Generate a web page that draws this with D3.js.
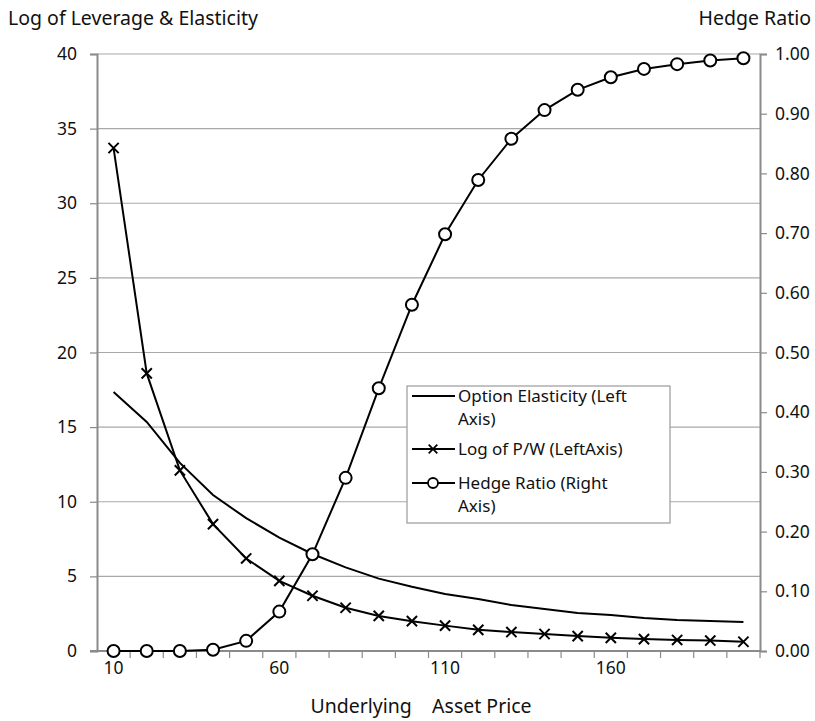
<!DOCTYPE html>
<html>
<head>
<meta charset="utf-8">
<script src="https://cdn.jsdelivr.net/npm/d3@7"></script>
<style>
  body { margin: 0; background: #fff; }
  text { font-family: "Noto Sans", sans-serif; fill: #111; }
</style>
</head>
<body>
<div id="chart"></div>
<script>
const prices = [10, 20, 30, 40, 50, 60, 70, 80, 90, 100, 110, 120, 130, 140, 150, 160, 170, 180, 190, 200];
const elasticity = [17.35, 15.35, 12.6, 10.45, 8.9, 7.6, 6.5, 5.6, 4.85, 4.3, 3.82, 3.48, 3.08, 2.81, 2.55, 2.41, 2.21, 2.08, 2.01, 1.94];
const logPW = [33.7, 18.6, 12.1, 8.5, 6.2, 4.7, 3.7, 2.9, 2.35, 2.0, 1.7, 1.42, 1.27, 1.14, 1.0, 0.88, 0.8, 0.74, 0.7, 0.62];
const hedge = [0.0, 0.0, 0.0, 0.002, 0.017, 0.066, 0.162, 0.29, 0.44, 0.58, 0.698, 0.789, 0.858, 0.906, 0.94, 0.961, 0.975, 0.983, 0.989, 0.993];
const xLabels = [10, 60, 110, 160];
const leftTicks = [0, 5, 10, 15, 20, 25, 30, 35, 40];
const rightTicks = [0, 0.1, 0.2, 0.3, 0.4, 0.5, 0.6, 0.7, 0.8, 0.9, 1.0];

const width = 815, height = 721;
const margin = {top: 54, right: 55, bottom: 70, left: 97};

const svg = d3.select("#chart").append("svg")
  .attr("width", width)
  .attr("height", height);

const xScale = d3.scaleBand()
  .domain(prices)
  .range([margin.left, width - margin.right])
  .padding(0);

const yLeft = d3.scaleLinear().domain([0, 40]).range([height - margin.bottom, margin.top]);
const yRight = d3.scaleLinear().domain([0, 1]).range([height - margin.bottom, margin.top]);

const cx = d => xScale(d) + xScale.bandwidth() / 2;
const axisColor = "#8a8a8a";

// gridlines
svg.append("g").selectAll("line")
  .data(leftTicks.filter(d => d > 0))
  .enter().append("line")
    .attr("x1", margin.left).attr("x2", width - margin.right)
    .attr("y1", d => yLeft(d)).attr("y2", d => yLeft(d))
    .attr("stroke", "#a8a8a8").attr("stroke-width", 1.2);

// left axis
const yAxisL = svg.append("g")
  .attr("transform", `translate(${margin.left},0)`)
  .call(d3.axisLeft(yLeft).tickValues(leftTicks).tickSize(7).tickPadding(13));
// right axis
const yAxisR = svg.append("g")
  .attr("transform", `translate(${width - margin.right},0)`)
  .call(d3.axisRight(yRight).tickValues(rightTicks).tickSize(7).tickPadding(8).tickFormat(d3.format(".2f")));

[yAxisL, yAxisR].forEach(function(a) {
  a.select(".domain").attr("stroke", axisColor).attr("stroke-width", 2);
  a.selectAll(".tick line").attr("stroke", axisColor).attr("stroke-width", 1.2);
  a.selectAll(".tick text").style("font-size", "17.5px").attr("fill", "#111");
});

// bottom axis
const y0 = yLeft(0);
const xAxis = svg.append("g");
xAxis.append("line")
  .attr("x1", margin.left - 7).attr("x2", width - margin.right)
  .attr("y1", y0).attr("y2", y0)
  .attr("stroke", axisColor).attr("stroke-width", 2);
xAxis.selectAll(".xt")
  .data(prices.slice(1).concat(["end"]))
  .enter().append("line")
    .attr("class", "xt")
    .attr("x1", d => d === "end" ? width - margin.right : xScale(d))
    .attr("x2", d => d === "end" ? width - margin.right : xScale(d))
    .attr("y1", y0).attr("y2", y0 + 7)
    .attr("stroke", axisColor).attr("stroke-width", 1.2);
xAxis.selectAll(".xl")
  .data(xLabels)
  .enter().append("text")
    .attr("class", "xl")
    .attr("x", d => cx(d))
    .attr("y", y0 + 23)
    .attr("text-anchor", "middle")
    .style("font-size", "17.5px")
    .text(d => d);

// titles
svg.append("text").attr("x", 8).attr("y", 25).style("font-size", "19.5px").text("Log of Leverage & Elasticity");
svg.append("text").attr("x", 811).attr("y", 25).attr("text-anchor", "end").style("font-size", "19.5px").text("Hedge Ratio");
svg.append("text").attr("x", 421).attr("y", 713).attr("text-anchor", "middle")
  .style("font-size", "19.5px").style("white-space", "pre").attr("xml:space", "preserve")
  .text("Underlying    Asset Price");

// lines
const lineL = d3.line().x((d, i) => cx(prices[i])).y(d => yLeft(d));
const lineR = d3.line().x((d, i) => cx(prices[i])).y(d => yRight(d));

svg.append("path").datum(elasticity).attr("d", lineL)
  .attr("fill", "none").attr("stroke", "#000").attr("stroke-width", 2);
svg.append("path").datum(logPW).attr("d", lineL)
  .attr("fill", "none").attr("stroke", "#000").attr("stroke-width", 2);
svg.append("path").datum(hedge).attr("d", lineR)
  .attr("fill", "none").attr("stroke", "#000").attr("stroke-width", 2);

const cross = d3.symbol().type(d3.symbolX).size(70);
svg.append("g").selectAll("path")
  .data(logPW)
  .enter().append("path")
    .attr("d", cross)
    .attr("transform", (d, i) => `translate(${cx(prices[i])},${yLeft(d)})`)
    .attr("fill", "none").attr("stroke", "#000").attr("stroke-width", 2);

svg.append("g").selectAll("circle")
  .data(hedge)
  .enter().append("circle")
    .attr("cx", (d, i) => cx(prices[i]))
    .attr("cy", d => yRight(d))
    .attr("r", 6)
    .attr("fill", "#fff").attr("stroke", "#000").attr("stroke-width", 2);

// legend
const legend = svg.append("g");
legend.append("rect")
  .attr("x", 407).attr("y", 386).attr("width", 263).attr("height", 137)
  .attr("fill", "#fff").attr("stroke", "#9a9a9a").attr("stroke-width", 1.2);

const legendItems = [
  {lines: ["Option Elasticity (Left", "Axis)"], y: 396, mark: "none"},
  {lines: ["Log of P/W (LeftAxis)"], y: 449, mark: "x"},
  {lines: ["Hedge Ratio (Right", "Axis)"], y: 483, mark: "o"}
];
legendItems.forEach(function(it) {
  legend.append("line")
    .attr("x1", 412).attr("x2", 455).attr("y1", it.y).attr("y2", it.y)
    .attr("stroke", "#000").attr("stroke-width", 2);
  if (it.mark === "x") {
    legend.append("path").attr("d", d3.symbol().type(d3.symbolX).size(50))
      .attr("transform", `translate(433,${it.y})`)
      .attr("fill", "none").attr("stroke", "#000").attr("stroke-width", 1.8);
  }
  if (it.mark === "o") {
    legend.append("circle").attr("cx", 433).attr("cy", it.y).attr("r", 5)
      .attr("fill", "#fff").attr("stroke", "#000").attr("stroke-width", 1.8);
  }
  it.lines.forEach(function(l, k) {
    legend.append("text")
      .attr("x", 458)
      .attr("y", it.y + 6 + k * 23)
      .style("font-size", "17px")
      .text(l);
  });
});
</script>
</body>
</html>
